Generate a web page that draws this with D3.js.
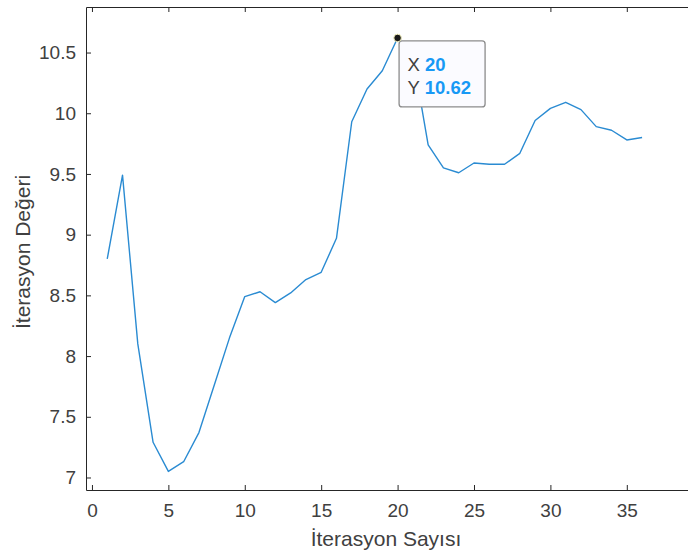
<!DOCTYPE html>
<html>
<head>
<meta charset="utf-8">
<script src="https://cdn.jsdelivr.net/npm/d3@7"></script>
<style>
    body { margin: 0; background: #fff; }
    svg { display: block; font-family: "Liberation Sans", Arial, sans-serif; }
    .axis path, .axis line { stroke: #262626; }
    .axis text { fill: #404040; font-size: 19px; }
    .axisLabel { fill: #404040; font-size: 21px; }
</style>
</head>
<body>
<script>
(function(){

    //chart data
    var iterations = d3.range(1, 37);
    var values = [8.80, 9.49, 8.10, 7.29, 7.05, 7.13, 7.37, 7.76, 8.15, 8.49,
                  8.53, 8.44, 8.52, 8.63, 8.69, 8.97, 9.93, 10.20, 10.35, 10.62,
                  10.47, 9.74, 9.55, 9.51, 9.59, 9.58, 9.58, 9.67, 9.94, 10.04,
                  10.09, 10.03, 9.89, 9.86, 9.78, 9.80];
    var xTicks = [0, 5, 10, 15, 20, 25, 30, 35];
    var yTicks = [7, 7.5, 8, 8.5, 9, 9.5, 10, 10.5];
    var tipIndex = 19; //data tip on iteration 20

    window.onload = setChart();

    function setChart(){
        var width = 688, height = 554;
        var left = 86, right = 689, top = 7, bottom = 490;

        var svg = d3.select("body")
            .append("svg")
            .attr("width", width)
            .attr("height", height);

        var x = d3.scaleLinear().domain([-0.39, 39.07]).range([left, right]);
        var y = d3.scaleLinear().domain([6.897, 10.875]).range([bottom, top]);

        //bottom axis
        svg.append("g")
            .attr("class", "axis")
            .attr("transform", "translate(0," + bottom + ")")
            .call(d3.axisBottom(x).tickValues(xTicks).tickSizeInner(-5).tickSizeOuter(0).tickPadding(14))
            .call(function(g){ g.selectAll("text").attr("dy", "0.71em"); });

        //top axis (ticks only)
        svg.append("g")
            .attr("class", "axis")
            .attr("transform", "translate(0," + top + ")")
            .call(d3.axisTop(x).tickValues(xTicks).tickSizeInner(-5).tickSizeOuter(0))
            .call(function(g){ g.selectAll("text").remove(); });

        //left axis
        svg.append("g")
            .attr("class", "axis")
            .attr("transform", "translate(" + left + ",0)")
            .call(d3.axisLeft(y).tickValues(yTicks).tickSizeInner(-5).tickSizeOuter(0).tickPadding(10)
                .tickFormat(d3.format("~g")));

        //line
        var line = d3.line()
            .x(function(d, i){ return x(iterations[i]); })
            .y(function(d){ return y(d); });

        svg.append("path")
            .datum(values)
            .attr("fill", "none")
            .attr("stroke", "#2a8bd2")
            .attr("stroke-width", 1.4)
            .attr("stroke-linejoin", "round")
            .attr("d", line);

        //axis labels
        svg.append("text")
            .attr("class", "axisLabel")
            .attr("x", (left + 688) / 2 - 1)
            .attr("y", 546)
            .attr("text-anchor", "middle")
            .text("İterasyon Sayısı");

        svg.append("text")
            .attr("class", "axisLabel")
            .attr("transform", "translate(30,252) rotate(-90)")
            .attr("text-anchor", "middle")
            .text("İterasyon Değeri");

        //data tip
        var px = x(iterations[tipIndex]), py = y(values[tipIndex]);
        var tip = svg.append("g");
        tip.append("rect")
            .attr("x", px + 1.5)
            .attr("y", py + 3)
            .attr("width", 86)
            .attr("height", 66)
            .attr("rx", 3)
            .attr("fill", "#fbfbff")
            .attr("stroke", "#8c8c8c")
            .attr("stroke-width", 1.3);

        var rows = [["X", iterations[tipIndex]], ["Y", values[tipIndex].toFixed(2)]];
        rows.forEach(function(r, i){
            var t = tip.append("text")
                .attr("x", px + 10)
                .attr("y", py + 33 + i * 23)
                .style("font-size", "18.5px");
            t.append("tspan").attr("fill", "#404040").text(r[0] + " ");
            t.append("tspan").attr("fill", "#1799f5").attr("font-weight", "bold").text(r[1]);
        });

        tip.append("circle")
            .attr("cx", px)
            .attr("cy", py)
            .attr("r", 3.8)
            .attr("fill", "#1a1a1a")
            .attr("stroke", "#f2f0c0")
            .attr("stroke-width", 1);
    };

})();
</script>
</body>
</html>
